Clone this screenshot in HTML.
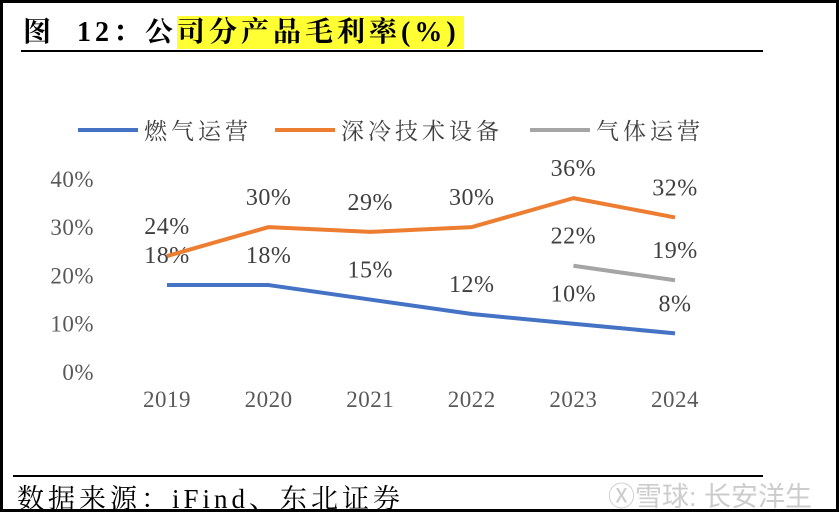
<!DOCTYPE html>
<html><head><meta charset="utf-8"><style>
body{margin:0;background:#fff}
#wrap{position:relative;width:833px;height:506px;border:3px solid #000;overflow:hidden;background:#fff;font-family:"Liberation Serif","Noto Serif CJK SC",serif}
.t{position:absolute;white-space:nowrap}
</style></head><body>
<div id="wrap">
<div class="t" style="left:20px;top:13px;font-size:28px;font-weight:bold;line-height:34px;letter-spacing:4px">图&nbsp; 12：公<span style="background:#ffff33;padding:1px 4px 1px 0">司分产品毛利率(%)</span></div>
<div style="position:absolute;left:18px;top:47px;width:742px;height:2px;background:#000"></div>
<div style="position:absolute;left:10px;top:472px;width:750px;height:2px;background:#000"></div>
<div class="t" style="left:14px;top:474px;font-size:27px;letter-spacing:4px">数据来源：iFind、东北证券</div>
<div class="t" style="left:605px;top:472px;font-size:27px;color:#ccc;font-family:'Liberation Sans','Noto Sans CJK SC',sans-serif">Ⓧ雪球: 长安洋生</div>
<svg id="chart" width="833" height="470" style="position:absolute;left:0;top:0"></svg>
</div>
<script>
const years=["2019","2020","2021","2022","2023","2024"];
const gas=[18,18,15,12,10,8];
const cold=[24,30,29,30,36,32];
const gasOps=[null,null,null,null,22,19];
const yTicks=[0,10,20,30,40];
const NS="http://www.w3.org/2000/svg";
const svg=document.getElementById('chart');
const off=3;
function X(i){return 167+i*101.6-off;}
function Y(v){return 372-v*4.83-off;}
function mk(tag,attrs,parent){const e=document.createElementNS(NS,tag);for(const k in attrs)e.setAttribute(k,attrs[k]);(parent||svg).appendChild(e);return e;}
const font='"Liberation Serif","Noto Serif CJK SC",serif';
yTicks.forEach(v=>{const t=mk('text',{x:94-off,y:Y(v)+8,'text-anchor':'end','font-size':23,'letter-spacing':0.5,fill:'#595959','font-family':font});t.textContent=v+'%';

});
years.forEach((y,i)=>{const t=mk('text',{x:X(i),y:407-off,'text-anchor':'middle','font-size':23,'letter-spacing':0.5,fill:'#595959','font-family':font});t.textContent=y;

});
function series(vals,color,name){
 let d='';vals.forEach((v,i)=>{if(v==null)return;d+=(d?'L':'M')+X(i)+','+Y(v);});
 const p=mk('path',{d:d,fill:'none',stroke:color,'stroke-width':4,'stroke-linejoin':'round'});
 
 
 vals.forEach((v,i)=>{if(v==null)return;const t=mk('text',{x:X(i),y:Y(v)-22,'text-anchor':'middle','font-size':24,'letter-spacing':0.5,fill:'#404040','font-family':font});t.textContent=v+'%';
 
 });
}
series(gas,'#4472c4','gas-operation');
series(cold,'#ed7d31','cryogenic-equipment');
series(gasOps,'#a5a5a5','gas-operation-2');
const legend=[["燃气运营","#4472c4",78],["深冷技术设备","#ed7d31",275],["气体运营","#a5a5a5",530]];
legend.forEach(l=>{const g=mk('g',{});


mk('line',{x1:l[2]-off,x2:l[2]+60-off,y1:130-off,y2:130-off,stroke:l[1],'stroke-width':4},g);
const t=mk('text',{x:l[2]+66-off,y:139-off,'font-size':23,'letter-spacing':4,fill:'#404040','font-family':font},g);t.textContent=l[0];});
</script>
</body></html>
